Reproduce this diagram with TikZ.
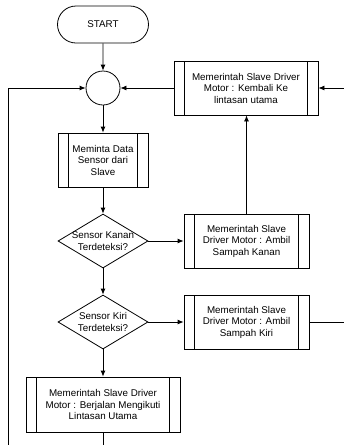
\documentclass[tikz,border=0pt]{standalone}
\usepackage{fontspec}
\setmainfont{Liberation Sans}
\usetikzlibrary{shapes.geometric,shapes.misc,arrows.meta}

\begin{document}
\begin{tikzpicture}[x=1pt,y=-1pt,line width=0.8pt,
    font=\fontsize{9.8}{11.5}\selectfont,
    >={Latex[length=6pt,width=5pt]},
    term/.style={draw,rounded rectangle,minimum width=91pt,minimum height=37pt,inner sep=0pt},
    joint/.style={draw,circle,minimum size=34pt,inner sep=0pt},
    proc/.style={draw,rectangle,minimum height=54pt,inner sep=0pt,align=center,
      path picture={
        \draw ([xshift=10.5pt]path picture bounding box.north west) -- ([xshift=10.5pt]path picture bounding box.south west);
        \draw ([xshift=-10.5pt]path picture bounding box.north east) -- ([xshift=-10.5pt]path picture bounding box.south east);}},
    decide/.style={draw,diamond,minimum width=90pt,minimum height=54pt,inner sep=0pt}]
  \useasboundingbox (0,0) rectangle (344,445);
  \clip (0,0) rectangle (344,445);
  % nodes
  \node[term] (start) at (103,24.5) {START};
  \node[joint] (join) at (103,88) {};
  \node[proc,minimum width=144pt] (kembali) at (246,88) {Memerintah Slave Driver\\Motor : Kembali Ke\\lintasan utama};
  \node[proc,minimum width=90pt] (minta) at (103,160) {Meminta Data\\Sensor dari\\Slave};
  \node[decide,label={[align=center]center:Sensor Kanan\\Terdeteksi?}] (cekkanan) at (103,241) {};
  \node[proc,minimum width=125pt] (ambilkanan) at (246.5,241) {Memerintah Slave\\Driver Motor : Ambil\\Sampah Kanan};
  \node[decide,label={[align=center]center:Sensor Kiri\\Terdeteksi?}] (cekkiri) at (103,322) {};
  \node[proc,minimum width=125pt] (ambilkiri) at (246.5,322) {Memerintah Slave\\Driver Motor : Ambil\\Sampah Kiri};
  \node[proc,minimum width=154pt,minimum height=55pt] (jalan) at (103,404.5) {Memerintah Slave Driver\\Motor : Berjalan Mengikuti\\Lintasan Utama};
  \coordinate (railkanan) at (350,0);
  \coordinate (railkiri) at (8,452);
  % arrows
  \draw[->] (start) -- (join);
  \draw[->] (join) -- (minta);
  \draw[->] (minta) -- (cekkanan);
  \draw[->] (cekkanan) -- (ambilkanan);
  \draw[->] (ambilkanan.north) -- (ambilkanan.north |- kembali.south);
  \draw[->] (kembali) -- (join);
  \draw[->] (cekkanan) -- (cekkiri);
  \draw[->] (cekkiri) -- (ambilkiri);
  \draw[->] (cekkiri) -- (jalan);
  \draw[->] (ambilkiri.east) -- (ambilkiri.east -| railkanan) -- (railkanan |- kembali.east) -- (kembali.east);
  \draw[->] (jalan.south) -- (jalan.south |- railkiri) -- (railkiri) -- (railkiri |- join) -- (join.west);
\end{tikzpicture}
\end{document}
